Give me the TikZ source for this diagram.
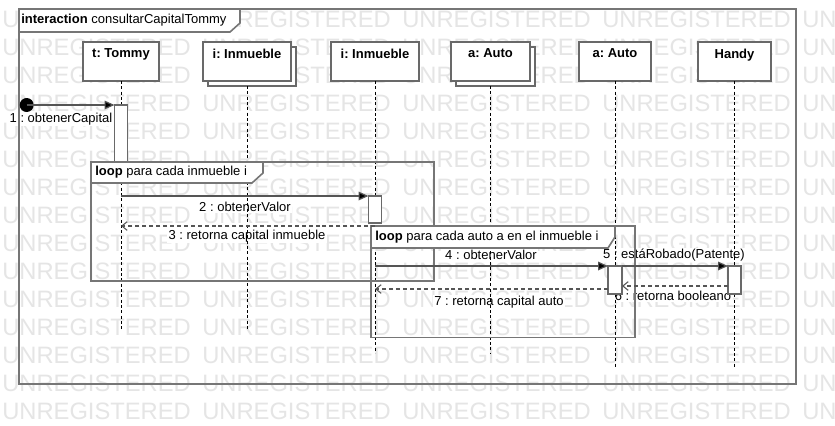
\documentclass[tikz,border=0pt]{standalone}
\usepackage{fontspec}
\setmainfont{Liberation Sans}
\usetikzlibrary{arrows.meta,shadows}
\frenchspacing

\definecolor{wmgray}{RGB}{229,229,229}
\definecolor{frameline}{RGB}{118,118,118}
\definecolor{boxline}{RGB}{105,105,105}
\definecolor{msgline}{RGB}{85,85,85}

\pgfdeclarelayer{wmark}
\pgfdeclarelayer{labels}
\pgfsetlayers{wmark,labels,main}

\begin{document}
\begin{tikzpicture}[x=0.75pt,y=-0.75pt,
  txt/.style={font=\fontsize{9.75}{11.5}\selectfont, text=black},
  wmtext/.style={font=\fontsize{17.8}{20}\selectfont, text=wmgray, inner sep=0pt, anchor=west},
  headbox/.style={draw=boxline, line width=1.2pt, fill=white, inner sep=0pt, outer sep=0pt,
    minimum height=29.25pt},
  multi/.style={headbox, copy shadow={shadow xshift=3.75pt, shadow yshift=-3.75pt}},
  headtext/.style={txt, font=\fontsize{9.75}{11.5}\selectfont\bfseries, anchor=north, inner sep=0pt, yshift=-5pt},
  lifeline/.style={draw=black, line width=0.7pt, dash pattern=on 2.2pt off 1.8pt},
  actbox/.style={draw=boxline, line width=1.2pt, fill=white, inner sep=0pt, outer sep=0pt,
    minimum width=9.75pt},
  frame/.style={draw=frameline, line width=1.2pt, inner sep=0pt, outer sep=0pt},
  tab/.style={draw=frameline, line width=1.2pt, fill=white, line join=miter},
  msg/.style={draw=msgline, line width=0.9pt, -{Triangle[length=7.5pt,width=6.5pt,fill=black]}},
  ret/.style={draw=msgline, line width=0.9pt, dash pattern=on 3pt off 2.2pt,
    -{Straight Barb[length=4pt,width=6.5pt,line width=0.8pt]}},
  msglabel/.style={txt, fill=white, inner sep=1pt}
]
\useasboundingbox (0,0) rectangle (835,425);
\clip (0,0) rectangle (835,425);

% background watermark rows
\begin{pgfonlayer}{wmark}
  \fill[white] (0,0) rectangle (835,425);
  \foreach \r in {0,...,14}
    \foreach \c in {0,...,4}
      \node[wmtext] (wm-\r-\c) at (2+200*\c, 19+28*\r) {UNREGISTERED};
\end{pgfonlayer}

% lifeline heads
\node[headbox, minimum width=57pt]    (tommy) at (121,61.5)   {};
\node[multi,   minimum width=66pt]    (inm1)  at (247,61.5)   {};
\node[headbox, minimum width=66pt]    (inm2)  at (375,61.5)   {};
\node[multi,   minimum width=59.25pt] (auto1) at (490.5,61.5) {};
\node[headbox, minimum width=54pt]    (auto2) at (615,61.5)   {};
\node[headbox, minimum width=54.75pt] (handy) at (734.5,61.5) {};

\node[headtext] (tommy-t) at (tommy.north) {t: Tommy};
\node[headtext] (inm1-t)  at (inm1.north)  {i: Inmueble};
\node[headtext] (inm2-t)  at (inm2.north)  {i: Inmueble};
\node[headtext] (auto1-t) at (auto1.north) {a: Auto};
\node[headtext] (auto2-t) at (auto2.north) {a: Auto};
\node[headtext] (handy-t) at (handy.north) {Handy};

% message labels (white backing, lifelines run over them)
\begin{pgfonlayer}{labels}
  \node[msglabel] (l1) at (61,119)  {1 : obtenerCapital};
  \node[msglabel] (l2) at (245,207) {2 : obtenerValor};
  \node[msglabel] (l3) at (247,236) {3 : retorna capital inmueble};
  \node[msglabel] (l4) at (491,255) {4 : obtenerValor};
  \node[msglabel] (l5) at (674,255) {5 : estáRobado(Patente)};
  \node[msglabel] (l6) at (673,296) {6 : retorna booleano};
  \node[msglabel] (l7) at (499,302) {7 : retorna capital auto};
\end{pgfonlayer}

% lifelines
\draw[lifeline] (tommy.south) -- (tommy.south |- 0,330);
\draw[lifeline] ([yshift=-3.75pt]inm1.south) -- (inm1.south |- 0,330);
\draw[lifeline] (inm2.south) -- (inm2.south |- 0,353);
\draw[lifeline] ([yshift=-3.75pt]auto1.south) -- (auto1.south |- 0,353);
\draw[lifeline] (auto2.south) -- (auto2.south |- 0,367);
\draw[lifeline] (handy.south) -- (handy.south |- 0,367);

% activation bars
\node[actbox, minimum height=42.75pt] (actT) at (tommy.south |- 0,133.5) {};
\node[actbox, minimum height=20.25pt] (actI) at (inm2.south |- 0,209.5) {};
\node[actbox, minimum height=21pt, minimum width=10.5pt] (actA) at (auto2.south |- 0,280) {};
\node[actbox, minimum height=21pt]    (actH) at (handy.south |- 0,280) {};

% interaction frame
\node[frame, minimum width=582.75pt, minimum height=281.25pt] (frm) at (407.5,196.5) {};
\draw[tab] (frm.north west) -- ++(221,0) -- ++(0,14) -- ++(-10,9) -- ++(-211,0) -- cycle;
\node[txt, anchor=west, inner sep=1.5pt] (frm-t) at (19,20.5)
  {\textbf{interaction} consultarCapitalTommy};

% combined fragments
\node[frame, minimum width=257.25pt, minimum height=89.25pt] (loop1) at (262.5,221.5) {};
\draw[tab] (loop1.north west) -- ++(172,0) -- ++(0,11) -- ++(-11,10) -- ++(-161,0) -- cycle;
\node[txt, anchor=west, inner sep=1.5pt] (loop1-t) at (93,172.5) {\textbf{loop} para cada inmueble i};

\node[frame, minimum width=198pt, minimum height=83.625pt] (loop2) at (503,281.75) {};
\draw[tab] (loop2.north west) -- ++(244,0) -- ++(0,11) -- ++(-7,11) -- ++(-237,0) -- cycle;
\node[txt, anchor=west, inner sep=1.5pt] (loop2-t) at (373,237) {\textbf{loop} para cada auto a en el inmueble i};

% messages
\node[circle, fill=black, minimum size=10.5pt, inner sep=0pt] (start) at (26.7,105) {};
\draw[msg] (start.center) -- (actT.north west);
\draw[msg] (tommy.south |- actI.north) -- (actI.north west);
\draw[ret] (inm2.south |- 0,226) -- (tommy.south |- 0,226);
\draw[msg] (inm2.south |- actA.north) -- (actA.north west);
\draw[msg] (actA.north east) -- (actH.north west);
\draw[ret] (actH.west |- 0,286) -- (actA.east |- 0,286);
\draw[ret] (actA.west |- 0,289) -- (inm2.south |- 0,289);
\end{tikzpicture}
\end{document}
